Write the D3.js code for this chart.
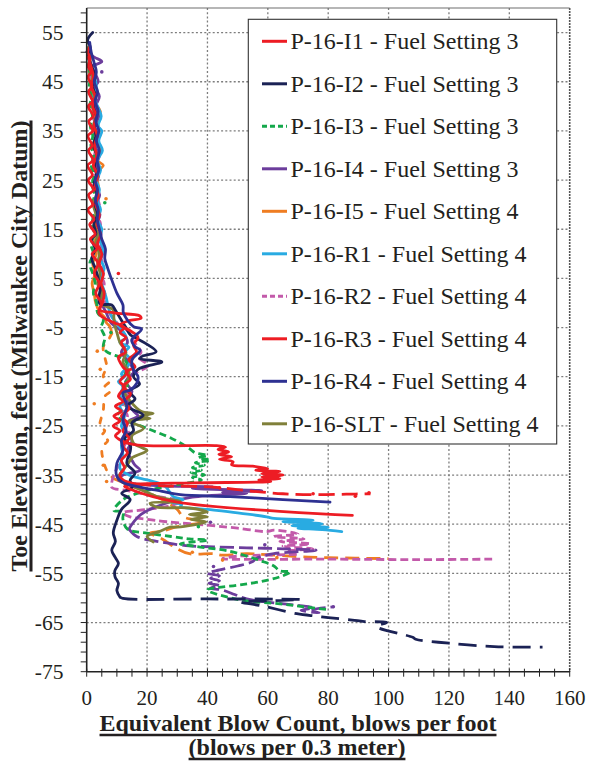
<!DOCTYPE html>
<html>
<head>
<meta charset="utf-8">
<script src="https://cdn.jsdelivr.net/npm/d3@7"></script>
<style>
  html, body { margin: 0; padding: 0; background: #fff; }
  svg { display: block; }
</style>
</head>
<body>
<svg id="chart" width="589" height="763"></svg>
<script>
// Axis ticks
const elevTicks = [55, 45, 35, 25, 15, 5, -5, -15, -25, -35, -45, -55, -65, -75];
const blowTicks = [0, 20, 40, 60, 80, 100, 120, 140, 160];

// Legend labels
const seriesNames = [
  "P-16-I1 - Fuel Setting 3",
  "P-16-I2 - Fuel Setting 3",
  "P-16-I3 - Fuel Setting 3",
  "P-16-I4 - Fuel Setting 3",
  "P-16-I5 - Fuel Setting 4",
  "P-16-R1 - Fuel Setting 4",
  "P-16-R2 - Fuel Setting 4",
  "P-16-R3 - Fuel Setting 4",
  "P-16-R4 - Fuel Setting 4",
  "P-16-SLT - Fuel Setting 4"
];

// Profiles: [equivalent blow count, toe elevation]
const i1Profile = [[1.0,52],[0.3,51],[1.2,50],[0.5,48],[1.5,47],[0.4,46],[1.8,44],[0.6,43],[1.9,41],[0.5,40],[2.2,38],[0.7,37],[2.0,35],[0.4,34],[1.8,32],[0.6,31],[2.1,29],[0.3,28],[1.9,26],[0.5,25],[2.3,23],[0.6,22],[2.0,20],[0.4,19],[2.4,17],[1.0,16],[2.8,14],[1.2,13],[3.4,11],[1.8,10],[3.8,8],[2.5,6],[4.2,4],[3.0,2],[4.8,0],[4.0,-2],[5.5,-3],[9,-4],[12.5,-5],[11,-6],[13,-7],[11.5,-8],[12.8,-10],[10.5,-11],[12,-13],[13.5,-14],[11,-16],[12.5,-17],[10.5,-19],[12,-20],[9.5,-21],[11.5,-22],[9,-23],[11,-24],[8.8,-25],[11,-26],[9.5,-27],[11.5,-28],[17,-28.9],[43,-29.0],[46,-29.3],[43.5,-29.8],[47,-30.3],[43.8,-30.8],[48,-31.3],[44,-31.8],[48.5,-32.3],[48,-32.9],[55,-33.2],[60,-33.7],[56,-34.0],[64,-34.3],[58,-34.7],[65,-35.0],[58,-35.4],[64,-35.7],[57,-36.0],[61,-36.3],[35,-36.6],[16,-36.9],[12.5,-37.3],[14,-37.8],[30,-40.5],[88,-43.2]];

const i2Profile = [[2.0,55],[0.3,53.5],[1.2,52],[0.6,50],[1.8,48],[2.8,46],[2.0,44],[3.0,42],[2.2,40],[3.2,38],[2.5,36],[3.0,34],[2.2,32],[3.4,30],[2.6,28],[3.2,26],[2.4,24],[3.5,22],[2.8,20],[3.6,18],[2.4,16],[3.0,14],[1.6,13],[2.8,11],[1.7,9],[2.9,7],[3.8,5],[4.5,3],[4.0,1],[4.4,-0.2],[8.3,-0.4],[9.5,-1.5],[11,-3],[13,-5],[14.5,-6.5],[16.6,-7.2],[23,-9.9],[18.5,-10.8],[17.5,-11.3],[24.9,-12.0],[17,-13.5],[15.5,-15],[17.5,-16.5],[14,-18],[16,-19.5],[13.5,-21],[18.7,-22.8],[15,-24.4],[15.5,-26],[12.5,-27.5],[14.5,-29],[14.4,-30.2],[13.3,-32.6],[16,-34.6],[14.4,-36],[15,-37.5],[11.6,-38.7],[14.4,-40],[11.5,-42],[10,-44.2],[8.8,-46.8],[9.5,-48.5],[8.3,-50.3],[9.5,-51.8],[10.5,-53],[9.3,-54.5],[9.4,-55.7],[10.5,-57],[10,-58.5],[11,-59.8]];
const i2Tail = [[11,-59.8],[12,-60.1],[40,-60.2],[71,-60.3],[60,-60.6],[51,-60.8],[58,-61.6],[69.6,-63.2],[76,-63.7],[80,-64.0],[88,-64.5],[92,-64.8],[99.4,-65],[96,-65.8],[108,-68],[109,-68.4],[120,-69.2],[135,-69.9],[151,-70]];

const i3Profile = [[0.3,52],[1.0,50],[0.6,48],[1.4,46],[0.8,44],[1.6,42],[1.0,40],[1.9,38],[1.2,36],[2.0,34],[1.4,32],[2.3,30],[1.5,28],[2.4,26],[1.8,24],[2.6,22],[2.0,20],[4.0,19],[2.5,18],[1.8,16],[2.5,14],[1.4,12],[2.2,10],[1.0,8],[2.0,6],[2.8,4],[2.2,2],[3.3,0],[3.6,-2],[5.5,-3.4],[4.8,-5],[6.0,-7],[5.5,-8.9],[6.6,-9.9],[12.7,-11.6],[13.5,-13],[12.5,-15],[13.5,-17],[12,-19],[13,-21],[10,-23],[17,-24.8],[22,-26],[28,-27.5],[34,-29.6],[36,-30.5],[40,-31],[37,-31.5],[41,-32],[36,-32.5],[39,-33],[35,-33.5],[38,-34],[34.5,-34.5],[39,-35],[35,-35.5],[38,-36],[33.5,-36.6],[25,-37.5],[18,-38.5],[12,-40],[9,-42.2],[12,-42.5],[12,-44],[13.5,-46],[20,-46.8],[28,-47.5],[34,-48],[40,-48.2],[31,-49],[36,-49.5],[47.5,-50.5],[53,-51.5],[58,-52.5],[62,-53.5],[64,-54.5],[67.5,-54.7],[64,-55.7],[57.4,-56.7],[50,-57.4],[40,-58.4],[46.4,-59.8],[53,-60.6],[64,-61.2],[72,-61.8],[80.6,-62.4]];

const i4Profile = [[0,51.1],[2.5,50],[5.0,49.1],[1.5,48],[2.5,47],[3.8,45],[2.8,44],[4.2,42],[3.0,40],[4.0,38],[2.6,36],[3.8,34],[2.8,32],[4.2,30],[3.0,28],[4.0,26],[2.8,24],[4.3,22],[3.2,20],[4.4,18],[3.5,16],[4.8,14],[3.6,12],[5.2,10],[4.0,8],[5.5,6],[4.4,4],[6.0,2],[5.0,0],[6.5,-2],[8,-4],[12,-6],[13.5,-8],[11.5,-10],[14,-12],[15.5,-14],[13,-16],[15,-18],[13.5,-20],[15.5,-22],[17,-23],[14,-24],[13,-26],[15,-28],[13.5,-30],[15,-32],[16,-33],[17.7,-34],[12,-35],[10.5,-36],[15,-36.7],[25,-37.2],[42,-37.4],[35,-37.7],[58,-38.2],[45,-38.5],[53,-38.7],[35,-39.5],[25,-41],[18,-43],[15,-45],[14,-46]];
const i4Tail = [[14,-46],[16.6,-47.5],[24.3,-48.6],[34,-49.4],[42,-49.6],[53,-49.8],[65,-50.0],[76,-50.3],[62,-51],[56,-52],[55,-52.6],[50,-53.5],[44,-54.3],[40,-55],[44,-55.5],[41,-56],[44,-56.5],[40.5,-57],[44,-57.5],[41,-58],[45,-58.4],[49,-59.3],[53,-60.2],[62,-61],[70,-61.5],[75,-62],[71,-62.5],[77,-63],[74,-62.5],[81.7,-61.8]];

const i5Profile = [[0.3,50],[1.2,49],[0.8,47],[2.0,45],[3.0,43],[2.4,41],[4.5,39],[3.5,37],[4.2,35],[3.2,33],[4.6,31],[3.6,29],[5.5,28],[4.2,27],[3.6,25],[4.0,23],[3.2,21],[3.8,20],[3.5,18],[2.6,16],[3.4,14],[2.5,12],[3.2,10],[2.0,8],[2.8,6],[1.8,4],[2.5,2],[3.0,0],[4.5,-2],[6,-3],[6.5,-4],[7.7,-4.8],[8.3,-6.2]];
const i5Mid = [[8.3,-6.2],[7.2,-7.5],[5.5,-8.9],[6,-11],[6.6,-13],[5.5,-15],[7.5,-16],[6,-17],[7.7,-18],[6,-19],[5.5,-21.8],[4.4,-25.2],[6,-26],[5,-27],[7,-28],[5.5,-29],[5,-30],[5.5,-32],[6.6,-34],[8.8,-35.7]];
const i5Tail = [[8.8,-35.7],[12.7,-36.7],[18,-38],[25,-40],[30,-42],[32,-43.5],[38.6,-44.5],[30,-45.5],[24.3,-46.5],[21,-46.8],[25,-48],[30,-50],[34,-51],[42,-51],[45,-51.3],[53,-51],[59.6,-51.2],[70,-51.6],[80,-51.8],[100,-52]];

const r1Profile = [[0.5,50],[1.5,48],[2.5,46],[3.2,44],[2.4,42],[3.6,40],[4.8,38],[3.8,36],[5.0,35],[4.0,33],[5.2,31],[3.6,29],[4.6,27],[3.2,25],[4.2,23],[3.4,21],[4.6,19],[3.6,17],[5.0,15],[4.2,13],[5.5,11],[4.6,9],[5.8,7],[4.4,5],[5.5,3],[6.5,1],[7.2,-1],[8.5,-3],[11,-5],[13,-7],[11,-8],[14,-9],[12.5,-10],[14.5,-11.5],[13.5,-13],[11.5,-14.5],[12.5,-15],[10.5,-16],[12,-17],[11,-19],[12.5,-20],[11,-21],[12.5,-23],[11.5,-25],[13,-27],[11.5,-29],[12,-31],[11,-33.6],[14,-35],[20,-36],[25.4,-37],[27,-38],[28.7,-39.4],[32,-40],[28,-40.5],[31.5,-41],[31,-41.4],[40,-42],[50,-42.7],[59.6,-43.5],[62,-43.8],[75,-44.2],[65,-44.5],[78,-44.9],[68,-45.3],[80,-45.6],[70,-45.8],[78,-46.1],[84.5,-46.5]];

const r2Profile = [[0.2,52],[0.8,50],[1.6,48],[1.0,46],[2.2,44],[1.5,42],[2.8,40],[2.0,38],[3.2,36],[2.4,34],[3.4,32],[2.6,30],[3.6,28],[2.8,26],[3.8,24],[3.2,22],[4.2,20],[3.5,18],[4.6,16],[3.6,14],[4.8,12],[4.2,10],[5.3,8],[4.5,6],[5.8,4],[5.0,2],[6.2,0],[7.5,-2],[10,-4],[14,-6],[16,-8.2],[18,-10],[17,-11],[20.4,-12.7],[17,-14],[14,-15],[12.5,-17],[14,-19],[12,-21],[13.5,-23],[12.5,-25],[14.5,-27],[12.5,-29],[11.5,-31],[10.5,-33],[9,-35],[8.3,-36.5],[8.3,-37.5],[14,-38.2],[20,-39],[31,-40.4],[28,-41.2],[20,-42],[12,-42.7],[14.4,-43.5],[20,-44],[26.5,-44.5],[40,-45.2],[50,-45.8],[59.6,-46.5],[62,-46.2],[70,-47],[62,-47.5],[72,-48],[64,-48.5],[74,-49],[65,-49.5],[75,-50],[66,-50.5],[70,-51],[50,-51.5],[45,-52],[80,-52.1],[110,-52.2],[135.2,-52.1]];

const r3Profile = [[0.5,50],[1.5,48],[2.2,46],[1.6,44],[2.8,42],[2.0,40],[3.2,38],[2.4,36],[3.5,34],[2.6,32],[3.3,30],[2.2,28],[3.6,26],[2.8,24],[3.8,22],[3.0,20],[4.2,18],[3.4,16],[4.6,14],[3.6,12],[5.0,10],[4.2,8],[5.5,6],[4.8,4],[5.8,2],[5.2,0],[4.4,-1.4],[9,-2.0],[17.5,-2.6],[18,-3.1],[14,-3.6],[11,-4.5],[14,-5.5],[17,-7],[15.5,-8.5],[16.5,-10],[14,-11.5],[16,-13],[13,-14],[14.5,-15.5],[12,-17],[14.5,-18.5],[12.5,-20],[14,-21.5],[11.5,-23],[13.5,-24.5],[12,-26],[14,-27.5],[12,-29],[13.5,-30.5],[11.5,-32],[12.5,-33.5],[11,-35],[12,-36],[16,-36.8]];
const r3Tail = [[16,-36.8],[25,-37.2],[36,-37.3],[43,-37.5],[55,-38.3],[65,-38.8],[75,-39.0],[86,-38.9],[94,-38.8]];

const r4Profile = [[1.0,53],[1.5,51],[2.4,49],[3.2,47],[2.5,45],[3.6,43],[2.8,41],[3.8,39],[3.0,37],[4.0,35],[3.2,33],[4.2,31],[3.5,29],[4.0,27],[2.8,25],[3.6,23],[2.9,21],[3.8,19],[3.5,17],[4.2,15],[5.0,13],[6.2,11],[6.0,9],[7.0,7],[8.3,4.7],[10,2],[12,-0.4],[12.2,-2.1],[15.5,-4.8],[18.2,-5.3],[14.9,-7.5],[16,-8.9],[17.7,-9.6],[15,-11.6],[15.5,-13.6],[17,-15],[16.6,-16.3],[14.4,-17.7],[12,-18.3],[13.3,-21],[12,-23.8],[13,-26],[11.5,-28],[12,-30],[10,-32.6],[10,-35.3],[12,-36.5],[18,-37.5],[25,-38.3],[31,-39],[47.5,-39.4],[65,-40],[80.6,-40.5]];

const sltProfile = [[0.5,52],[1.2,50],[0.8,48],[2.0,46],[1.4,44],[2.6,42],[1.8,40],[3.0,38],[2.2,36],[3.2,34],[2.0,32],[3.4,30],[2.4,28],[3.6,26],[2.6,24],[3.2,22],[2.2,20],[3.0,18],[2.4,16],[3.6,14],[3.0,12],[4.2,10],[3.6,8],[4.4,6],[3.6,4],[5.0,2],[4.5,0],[8.8,-1.4],[9,-3],[9.5,-5],[10,-6],[11,-8],[13,-10],[12,-12],[14,-14],[13.5,-16],[12.5,-18],[14.5,-20],[18,-22],[22,-22.5],[17.7,-23],[21,-23.5],[14,-24],[18.8,-25.5],[15,-27],[15.5,-28.5],[18.5,-29.5],[20,-30],[15,-31.5],[13.8,-32.6],[12,-34],[10.5,-35.5],[12,-36.5],[16,-37.5],[20,-38.5],[24,-39.5],[31,-40.4],[21,-40.7],[23,-41.5],[34,-41.7],[40,-42.5],[34,-43],[40,-43.5],[34.5,-44],[39.5,-44.5],[30,-45.6],[27.6,-45.6],[24,-46.5],[20,-47.5],[22,-48.6]];

// Isolated readings
const redDots = [[10.5,6],[44,-37.6],[75,-38.8],[89,-39.3],[93.5,-38.6]];
const orangeDots = [[6.4,21.2],[3.5,-9.8],[4.5,-13.5],[2.5,-20.5],[5.5,-33],[6.6,-36.3],[35,-50.7],[45,-52.3],[63,-51.8]];
const purpleDots = [[5,47],[41,-44.6],[59,-49.2],[42,-53.6],[81.7,-61.8]];
const greenDots = [[8,-6],[6,20.4],[37,-45.5]];

const svg = d3.select("#chart");
const plotL = 86.7, plotR = 569.7, plotT = 8, plotB = 671.7;

const x = d3.scaleLinear().domain([0, 160]).range([plotL, plotR]);
const y = d3.scaleLinear().domain([-75, 60]).range([plotB, plotT]);

const serif = "'Liberation Serif', 'Times New Roman', Times, serif";
const ink = "#231f20";

// Gridlines
const grid = svg.append("g").attr("stroke", "#7d7d7d").attr("stroke-width", 1.3).attr("stroke-dasharray", "2,2.2");
grid.selectAll("line.v").data(blowTicks.filter(d => d > 0 && d < 160)).join("line")
  .attr("x1", d => x(d)).attr("x2", d => x(d)).attr("y1", plotT).attr("y2", plotB);
grid.selectAll("line.h").data(elevTicks.filter(d => d > -75)).join("line")
  .attr("x1", plotL).attr("x2", plotR).attr("y1", d => y(d)).attr("y2", d => y(d));

// Frame
svg.append("line").attr("x1", plotL).attr("x2", plotR).attr("y1", plotT).attr("y2", plotT)
  .attr("stroke", "#6f6f6f").attr("stroke-width", 1.2);
svg.append("line").attr("x1", plotR).attr("x2", plotR).attr("y1", plotT).attr("y2", plotB)
  .attr("stroke", "#555").attr("stroke-width", 1.6).attr("stroke-dasharray", "2,1");

// Profiles
const line = d3.line().x(d => x(d[0])).y(d => y(d[1])).curve(d3.curveCatmullRom.alpha(0.5));
const plot = svg.append("g").attr("fill", "none").attr("stroke-width", 2.8)
  .attr("stroke-linejoin", "round");

const C = {
  i1: "#ed1c24", i2: "#1b2255", i3: "#14a84b", i4: "#6c3d9c", i5: "#ef7d22",
  r1: "#29abe2", r2: "#c35aaa", r3: "#ee1d23", r4: "#2e3192", slt: "#80803a"
};

function draw(data, color, dash, cap) {
  plot.append("path").datum(data).attr("d", line).attr("stroke", color)
    .attr("stroke-dasharray", dash || null).attr("stroke-linecap", cap || "round");
}

draw(i5Profile, C.i5);
draw(i5Mid, C.i5, "5,9");
draw(i5Tail, C.i5, "14,7", "butt");
draw(r2Profile, C.r2, "8,4", "butt");
draw(i4Profile, C.i4);
draw(i4Tail, C.i4, "14,5", "butt");
draw(i3Profile, C.i3, "7,4", "butt");
draw(r1Profile, C.r1);
draw(sltProfile, C.slt);
draw(i2Profile, C.i2);
draw(i2Tail, C.i2, "18,9", "butt");
draw(r3Profile, C.r3);
draw(r3Tail, C.r3, "16,7", "butt");
draw(i1Profile, C.i1);
draw(r4Profile, C.r4);

function dots(data, color) {
  plot.append("g").attr("fill", color).attr("stroke", "none")
    .selectAll("circle").data(data).join("circle")
    .attr("cx", d => x(d[0])).attr("cy", d => y(d[1])).attr("r", 1.8);
}
dots(redDots, C.r3);
dots(orangeDots, C.i5);
dots(purpleDots, C.i4);
dots(greenDots, C.i3);

// Axes
const axes = svg.append("g").attr("stroke", "#222");
axes.append("line").attr("x1", plotL).attr("x2", plotL).attr("y1", plotT).attr("y2", plotB).attr("stroke-width", 1.6);
axes.append("line").attr("x1", plotL).attr("x2", plotR).attr("y1", plotB).attr("y2", plotB).attr("stroke-width", 1.6);

const yMinor = d3.range(-75, 60, 2);
axes.selectAll("line.yt").data(yMinor).join("line")
  .attr("x1", plotL - 6).attr("x2", plotL).attr("y1", d => y(d)).attr("y2", d => y(d)).attr("stroke-width", 1);
const xMinor = d3.range(0, 161, 5);
axes.selectAll("line.xt").data(xMinor).join("line")
  .attr("x1", d => x(d)).attr("x2", d => x(d)).attr("y1", plotB - 3).attr("y2", plotB + 5).attr("stroke-width", 1);

svg.append("g").selectAll("text").data(elevTicks).join("text")
  .attr("x", 63.5).attr("y", d => y(d)).attr("dy", "0.35em")
  .attr("text-anchor", "end").attr("font-family", serif).attr("font-size", 21.5).attr("fill", ink)
  .text(d => d);
svg.append("g").selectAll("text").data(blowTicks).join("text")
  .attr("x", d => x(d)).attr("y", 705)
  .attr("text-anchor", "middle").attr("font-family", serif).attr("font-size", 21).attr("fill", ink)
  .text(d => d);

// Axis titles with underline
function underlined(g, txt, cx, cy, size, gap, thick) {
  const t = g.append("text").attr("x", cx).attr("y", cy).attr("text-anchor", "middle")
    .attr("font-family", serif).attr("font-weight", "bold").attr("font-size", size).attr("fill", ink).text(txt);
  const len = t.node().getComputedTextLength();
  g.append("line").attr("x1", cx - len / 2).attr("x2", cx + len / 2)
    .attr("y1", cy + gap).attr("y2", cy + gap).attr("stroke", ink).attr("stroke-width", thick);
}
const yt = svg.append("g").attr("transform", "translate(27,346) rotate(-90)");
underlined(yt, "Toe Elevation, feet (Milwaukee City Datum)", 0, 0, 24, 4, 3);
const xt = svg.append("g");
underlined(xt, "Equivalent Blow Count, blows per foot", 298, 731, 24, 4, 2.6);
underlined(xt, "(blows per 0.3 meter)", 297, 755, 24, 4, 2.6);

// Legend
const lg = svg.append("g");
lg.append("rect").attr("x", 248.3).attr("y", 19.3).attr("width", 308.4).attr("height", 424.7)
  .attr("fill", "#fff").attr("stroke", "#333").attr("stroke-width", 1.1);
const legendStyle = [
  [C.i1, null], [C.i2, null], [C.i3, "5,3"], [C.i4, null], [C.i5, null],
  [C.r1, null], [C.r2, "5,3"], [C.r3, null], [C.r4, null], [C.slt, null]
];
const rows = lg.selectAll("g.row").data(seriesNames).join("g")
  .attr("transform", (d, i) => `translate(0,${49.3 + i * 42.5})`);
rows.append("line").attr("x1", 262).attr("x2", 287).attr("y1", -8).attr("y2", -8)
  .attr("stroke", (d, i) => legendStyle[i][0]).attr("stroke-width", 3)
  .attr("stroke-dasharray", (d, i) => legendStyle[i][1]);
rows.append("text").attr("x", 290.5).attr("y", 0)
  .attr("font-family", serif).attr("font-size", 24).attr("fill", ink)
  .text(d => d);
</script>
</body>
</html>
